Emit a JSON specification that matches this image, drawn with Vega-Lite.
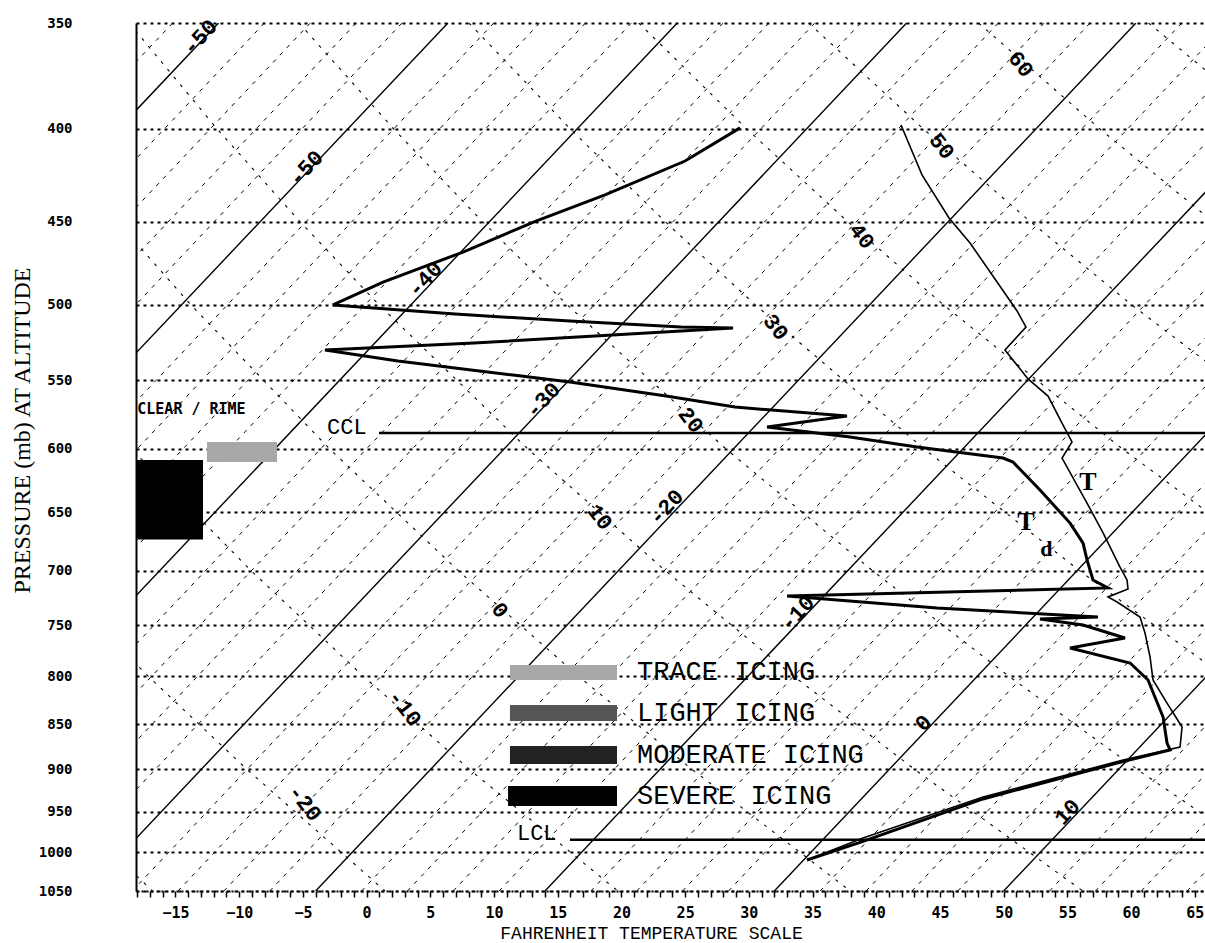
{
  "$schema": "https://vega.github.io/schema/vega-lite/v6.json",
  "width": 1069,
  "height": 868,
  "autosize": "none",
  "padding": {"left": 136, "top": 23, "right": 0, "bottom": 52},
  "background": "white",
  "config": {"view": {"stroke": null}},
  "datasets": {
    "iso": [
      {"c": -62, "T": -79.6, "T2": -15.22, "p": 1050, "p2": 350},
      {"c": -60, "T": -76.0, "T2": -11.62, "p": 1050, "p2": 350},
      {"c": -58, "T": -72.4, "T2": -8.02, "p": 1050, "p2": 350},
      {"c": -56, "T": -68.8, "T2": -4.42, "p": 1050, "p2": 350},
      {"c": -54, "T": -65.2, "T2": -0.82, "p": 1050, "p2": 350},
      {"c": -52, "T": -61.6, "T2": 2.78, "p": 1050, "p2": 350},
      {"c": -50, "T": -58.0, "T2": 6.38, "p": 1050, "p2": 350},
      {"c": -48, "T": -54.4, "T2": 9.98, "p": 1050, "p2": 350},
      {"c": -46, "T": -50.8, "T2": 13.58, "p": 1050, "p2": 350},
      {"c": -44, "T": -47.2, "T2": 17.18, "p": 1050, "p2": 350},
      {"c": -42, "T": -43.6, "T2": 20.78, "p": 1050, "p2": 350},
      {"c": -40, "T": -40.0, "T2": 24.38, "p": 1050, "p2": 350},
      {"c": -38, "T": -36.4, "T2": 27.98, "p": 1050, "p2": 350},
      {"c": -36, "T": -32.8, "T2": 31.58, "p": 1050, "p2": 350},
      {"c": -34, "T": -29.2, "T2": 35.18, "p": 1050, "p2": 350},
      {"c": -32, "T": -25.6, "T2": 38.78, "p": 1050, "p2": 350},
      {"c": -30, "T": -22.0, "T2": 42.38, "p": 1050, "p2": 350},
      {"c": -28, "T": -18.4, "T2": 45.98, "p": 1050, "p2": 350},
      {"c": -26, "T": -14.8, "T2": 49.58, "p": 1050, "p2": 350},
      {"c": -24, "T": -11.2, "T2": 53.18, "p": 1050, "p2": 350},
      {"c": -22, "T": -7.6, "T2": 56.78, "p": 1050, "p2": 350},
      {"c": -20, "T": -4.0, "T2": 60.38, "p": 1050, "p2": 350},
      {"c": -18, "T": -0.4, "T2": 63.98, "p": 1050, "p2": 350},
      {"c": -16, "T": 3.2, "T2": 67.58, "p": 1050, "p2": 350},
      {"c": -14, "T": 6.8, "T2": 71.18, "p": 1050, "p2": 350},
      {"c": -12, "T": 10.4, "T2": 74.78, "p": 1050, "p2": 350},
      {"c": -10, "T": 14.0, "T2": 78.38, "p": 1050, "p2": 350},
      {"c": -8, "T": 17.6, "T2": 81.98, "p": 1050, "p2": 350},
      {"c": -6, "T": 21.2, "T2": 85.58, "p": 1050, "p2": 350},
      {"c": -4, "T": 24.8, "T2": 89.18, "p": 1050, "p2": 350},
      {"c": -2, "T": 28.4, "T2": 92.78, "p": 1050, "p2": 350},
      {"c": 0, "T": 32.0, "T2": 96.38, "p": 1050, "p2": 350},
      {"c": 2, "T": 35.6, "T2": 99.98, "p": 1050, "p2": 350},
      {"c": 4, "T": 39.2, "T2": 103.58, "p": 1050, "p2": 350},
      {"c": 6, "T": 42.8, "T2": 107.18, "p": 1050, "p2": 350},
      {"c": 8, "T": 46.4, "T2": 110.78, "p": 1050, "p2": 350},
      {"c": 10, "T": 50.0, "T2": 114.38, "p": 1050, "p2": 350},
      {"c": 12, "T": 53.6, "T2": 117.98, "p": 1050, "p2": 350},
      {"c": 14, "T": 57.2, "T2": 121.58, "p": 1050, "p2": 350},
      {"c": 16, "T": 60.8, "T2": 125.18, "p": 1050, "p2": 350},
      {"c": 18, "T": 64.4, "T2": 128.78, "p": 1050, "p2": 350}
    ],
    "adiabat": [
      {"th": -30, "i": 0, "p": 350, "T": -71.98}, {"th": -30, "i": 1, "p": 400, "T": -67.18}, {"th": -30, "i": 2, "p": 450, "T": -62.56}, {"th": -30, "i": 3, "p": 500, "T": -58.09}, {"th": -30, "i": 4, "p": 600, "T": -49.58}, {"th": -30, "i": 5, "p": 700, "T": -41.58}, {"th": -30, "i": 6, "p": 800, "T": -34.04}, {"th": -30, "i": 7, "p": 900, "T": -26.88}, {"th": -30, "i": 8, "p": 1050, "T": -16.8},
      {"th": -20, "i": 0, "p": 350, "T": -58.65}, {"th": -20, "i": 1, "p": 400, "T": -53.33}, {"th": -20, "i": 2, "p": 450, "T": -48.23}, {"th": -20, "i": 3, "p": 500, "T": -43.32}, {"th": -20, "i": 4, "p": 600, "T": -34.02}, {"th": -20, "i": 5, "p": 700, "T": -25.32}, {"th": -20, "i": 6, "p": 800, "T": -17.15}, {"th": -20, "i": 7, "p": 900, "T": -9.41}, {"th": -20, "i": 8, "p": 1050, "T": 1.45},
      {"th": -10, "i": 0, "p": 350, "T": -45.31}, {"th": -10, "i": 1, "p": 400, "T": -39.47}, {"th": -10, "i": 2, "p": 450, "T": -33.9}, {"th": -10, "i": 3, "p": 500, "T": -28.56}, {"th": -10, "i": 4, "p": 600, "T": -18.47}, {"th": -10, "i": 5, "p": 700, "T": -9.07}, {"th": -10, "i": 6, "p": 800, "T": -0.27}, {"th": -10, "i": 7, "p": 900, "T": 8.05}, {"th": -10, "i": 8, "p": 1050, "T": 19.71},
      {"th": 0, "i": 0, "p": 350, "T": -31.98}, {"th": 0, "i": 1, "p": 400, "T": -25.62}, {"th": 0, "i": 2, "p": 450, "T": -19.57}, {"th": 0, "i": 3, "p": 500, "T": -13.79}, {"th": 0, "i": 4, "p": 600, "T": -2.91}, {"th": 0, "i": 5, "p": 700, "T": 7.19}, {"th": 0, "i": 6, "p": 800, "T": 16.62}, {"th": 0, "i": 7, "p": 900, "T": 25.52}, {"th": 0, "i": 8, "p": 1050, "T": 37.96},
      {"th": 10, "i": 0, "p": 350, "T": -18.64}, {"th": 10, "i": 1, "p": 400, "T": -11.76}, {"th": 10, "i": 2, "p": 450, "T": -5.24}, {"th": 10, "i": 3, "p": 500, "T": 0.97}, {"th": 10, "i": 4, "p": 600, "T": 12.64}, {"th": 10, "i": 5, "p": 700, "T": 23.44}, {"th": 10, "i": 6, "p": 800, "T": 33.51}, {"th": 10, "i": 7, "p": 900, "T": 42.99}, {"th": 10, "i": 8, "p": 1050, "T": 56.21},
      {"th": 20, "i": 0, "p": 350, "T": -5.31}, {"th": 20, "i": 1, "p": 400, "T": 2.09}, {"th": 20, "i": 2, "p": 450, "T": 9.09}, {"th": 20, "i": 3, "p": 500, "T": 15.74}, {"th": 20, "i": 4, "p": 600, "T": 28.2}, {"th": 20, "i": 5, "p": 700, "T": 39.7}, {"th": 20, "i": 6, "p": 800, "T": 50.39}, {"th": 20, "i": 7, "p": 900, "T": 60.45}, {"th": 20, "i": 8, "p": 1050, "T": 74.47},
      {"th": 30, "i": 0, "p": 350, "T": 8.03}, {"th": 30, "i": 1, "p": 400, "T": 15.95}, {"th": 30, "i": 2, "p": 450, "T": 23.42}, {"th": 30, "i": 3, "p": 500, "T": 30.5}, {"th": 30, "i": 4, "p": 600, "T": 43.76}, {"th": 30, "i": 5, "p": 700, "T": 55.95}, {"th": 30, "i": 6, "p": 800, "T": 67.28}, {"th": 30, "i": 7, "p": 900, "T": 77.92}, {"th": 30, "i": 8, "p": 1050, "T": 92.72},
      {"th": 40, "i": 0, "p": 350, "T": 21.36}, {"th": 40, "i": 1, "p": 400, "T": 29.8}, {"th": 40, "i": 2, "p": 450, "T": 37.75}, {"th": 40, "i": 3, "p": 500, "T": 45.27}, {"th": 40, "i": 4, "p": 600, "T": 59.31}, {"th": 40, "i": 5, "p": 700, "T": 72.21}, {"th": 40, "i": 6, "p": 800, "T": 84.17}, {"th": 40, "i": 7, "p": 900, "T": 95.39}, {"th": 40, "i": 8, "p": 1050, "T": 110.97},
      {"th": 50, "i": 0, "p": 350, "T": 34.7}, {"th": 50, "i": 1, "p": 400, "T": 43.66}, {"th": 50, "i": 2, "p": 450, "T": 52.08}, {"th": 50, "i": 3, "p": 500, "T": 60.04}, {"th": 50, "i": 4, "p": 600, "T": 74.87}, {"th": 50, "i": 5, "p": 700, "T": 88.47}, {"th": 50, "i": 6, "p": 800, "T": 101.06}, {"th": 50, "i": 7, "p": 900, "T": 112.85}, {"th": 50, "i": 8, "p": 1050, "T": 129.23},
      {"th": 60, "i": 0, "p": 350, "T": 48.03}, {"th": 60, "i": 1, "p": 400, "T": 57.51}, {"th": 60, "i": 2, "p": 450, "T": 66.41}, {"th": 60, "i": 3, "p": 500, "T": 74.8}, {"th": 60, "i": 4, "p": 600, "T": 90.43}, {"th": 60, "i": 5, "p": 700, "T": 104.72}, {"th": 60, "i": 6, "p": 800, "T": 117.95}, {"th": 60, "i": 7, "p": 900, "T": 130.32}, {"th": 60, "i": 8, "p": 1050, "T": 147.48},
      {"th": 70, "i": 0, "p": 350, "T": 61.37}, {"th": 70, "i": 1, "p": 400, "T": 71.37}, {"th": 70, "i": 2, "p": 450, "T": 80.74}, {"th": 70, "i": 3, "p": 500, "T": 89.57}, {"th": 70, "i": 4, "p": 600, "T": 105.98}, {"th": 70, "i": 5, "p": 700, "T": 120.98}, {"th": 70, "i": 6, "p": 800, "T": 134.84}, {"th": 70, "i": 7, "p": 900, "T": 147.79}, {"th": 70, "i": 8, "p": 1050, "T": 165.73}
    ],
    "isoLabels": [
      {"T": -13.08, "p": 356.3, "label": "-50"},
      {"T": -4.76, "p": 420.5, "label": "-50"},
      {"T": 4.58, "p": 484, "label": "-40"},
      {"T": 13.84, "p": 564, "label": "-30"},
      {"T": 23.5, "p": 645.8, "label": "-20"},
      {"T": 33.78, "p": 738.6, "label": "-10"},
      {"T": 43.67, "p": 848.9, "label": "0"},
      {"T": 54.97, "p": 950, "label": "10"}
    ],
    "thLabels": [
      {"T": 51.36, "p": 368.7, "label": "60"},
      {"T": 45.16, "p": 409, "label": "50"},
      {"T": 38.88, "p": 458.3, "label": "40"},
      {"T": 32.13, "p": 514.3, "label": "30"},
      {"T": 25.46, "p": 578.5, "label": "20"},
      {"T": 18.32, "p": 654.1, "label": "10"},
      {"T": 10.47, "p": 735.8, "label": "0"},
      {"T": 3.01, "p": 832.9, "label": "-10"},
      {"T": -4.84, "p": 939.3, "label": "-20"}
    ],
    "icing": [
      {"kind": "severe", "T": -18.1, "T2": -12.84, "p": 608.5, "p2": 673},
      {"kind": "trace", "T": -12.53, "T2": -7.03, "p": 594.8, "p2": 610},
      {"kind": "trace", "T": 11.25, "T2": 19.65, "p": 788.8, "p2": 804},
      {"kind": "light", "T": 11.25, "T2": 19.65, "p": 829.7, "p2": 846.8},
      {"kind": "moderate", "T": 11.25, "T2": 19.65, "p": 874, "p2": 894},
      {"kind": "severe", "T": 11.1, "T2": 19.65, "p": 919.3, "p2": 942.9}
    ],
    "legendText": [
      {"T": 21.22, "p": 795.8, "label": "TRACE ICING"},
      {"T": 21.22, "p": 838.2, "label": "LIGHT ICING"},
      {"T": 21.22, "p": 884, "label": "MODERATE ICING"},
      {"T": 21.22, "p": 931, "label": "SEVERE ICING"}
    ],
    "levels": [
      {"name": "CCL", "T": 0.97, "T2": 65.8, "p": 588},
      {"name": "LCL", "T": 15.96, "T2": 65.8, "p": 984}
    ],
    "levelText": [
      {"T": -3.11, "p": 583.6, "label": "CCL"},
      {"T": 11.8, "p": 975.7, "label": "LCL"}
    ],
    "sounding": [
      {"s": "T", "i": 1, "T": 41.94, "p": 398.2}, {"s": "T", "i": 2, "T": 43.59, "p": 424.2}, {"s": "T", "i": 3, "T": 45.71, "p": 448.0}, {"s": "T", "i": 4, "T": 47.36, "p": 462.4}, {"s": "T", "i": 5, "T": 49.48, "p": 485.8}, {"s": "T", "i": 6, "T": 51.05, "p": 503.9}, {"s": "T", "i": 7, "T": 51.75, "p": 514.3}, {"s": "T", "i": 8, "T": 50.1, "p": 529.4}, {"s": "T", "i": 9, "T": 51.91, "p": 549.2}, {"s": "T", "i": 10, "T": 53.48, "p": 561.2}, {"s": "T", "i": 11, "T": 54.66, "p": 582.2}, {"s": "T", "i": 12, "T": 55.36, "p": 594.8}, {"s": "T", "i": 13, "T": 54.58, "p": 607.0}, {"s": "T", "i": 14, "T": 56.54, "p": 642.6}, {"s": "T", "i": 15, "T": 57.8, "p": 667.4}, {"s": "T", "i": 16, "T": 59.13, "p": 696.8}, {"s": "T", "i": 17, "T": 59.68, "p": 708.3}, {"s": "T", "i": 18, "T": 59.76, "p": 716.5}, {"s": "T", "i": 19, "T": 58.19, "p": 723.7}, {"s": "T", "i": 20, "T": 58.9, "p": 728.3}, {"s": "T", "i": 21, "T": 60.7, "p": 742.3}, {"s": "T", "i": 22, "T": 61.09, "p": 757.5}, {"s": "T", "i": 23, "T": 61.49, "p": 780.9}, {"s": "T", "i": 24, "T": 61.72, "p": 803.9}, {"s": "T", "i": 25, "T": 62.82, "p": 827.7}, {"s": "T", "i": 26, "T": 64.0, "p": 853.2}, {"s": "T", "i": 27, "T": 63.84, "p": 875.1}, {"s": "T", "i": 28, "T": 59.37, "p": 889.6}, {"s": "T", "i": 29, "T": 48.38, "p": 932.2}, {"s": "T", "i": 30, "T": 38.96, "p": 981.9}, {"s": "T", "i": 31, "T": 34.56, "p": 1009.6},
      {"s": "Td", "i": 1, "T": 29.31, "p": 399.7}, {"s": "Td", "i": 2, "T": 24.99, "p": 416.8}, {"s": "Td", "i": 3, "T": 18.71, "p": 435.1}, {"s": "Td", "i": 4, "T": 13.29, "p": 449.7}, {"s": "Td", "i": 5, "T": 7.57, "p": 467.7}, {"s": "Td", "i": 6, "T": 1.29, "p": 485.8}, {"s": "Td", "i": 7, "T": -2.64, "p": 500.1}, {"s": "Td", "i": 8, "T": 6.94, "p": 505.9}, {"s": "Td", "i": 9, "T": 15.96, "p": 510.4}, {"s": "Td", "i": 10, "T": 24.68, "p": 514.3}, {"s": "Td", "i": 11, "T": 28.76, "p": 514.9}, {"s": "Td", "i": 12, "T": 17.93, "p": 520.1}, {"s": "Td", "i": 13, "T": 8.43, "p": 524.8}, {"s": "Td", "i": 14, "T": -3.27, "p": 529.4}, {"s": "Td", "i": 15, "T": 2.46, "p": 536.9}, {"s": "Td", "i": 16, "T": 11.49, "p": 546.5}, {"s": "Td", "i": 17, "T": 15.96, "p": 551.3}, {"s": "Td", "i": 18, "T": 23.5, "p": 561.2}, {"s": "Td", "i": 19, "T": 28.91, "p": 569.1}, {"s": "Td", "i": 20, "T": 37.7, "p": 575.6}, {"s": "Td", "i": 21, "T": 31.43, "p": 583.7}, {"s": "Td", "i": 22, "T": 37.94, "p": 591.1}, {"s": "Td", "i": 23, "T": 43.2, "p": 598.6}, {"s": "Td", "i": 24, "T": 49.95, "p": 607.0}, {"s": "Td", "i": 25, "T": 50.73, "p": 610.1}, {"s": "Td", "i": 26, "T": 52.85, "p": 632.1}, {"s": "Td", "i": 27, "T": 55.21, "p": 659.1}, {"s": "Td", "i": 28, "T": 56.23, "p": 676.0}, {"s": "Td", "i": 29, "T": 56.54, "p": 690.6}, {"s": "Td", "i": 30, "T": 57.01, "p": 708.3}, {"s": "Td", "i": 31, "T": 58.19, "p": 715.5}, {"s": "Td", "i": 32, "T": 33.0, "p": 722.8}, {"s": "Td", "i": 33, "T": 44.77, "p": 733.9}, {"s": "Td", "i": 34, "T": 57.4, "p": 742.3}, {"s": "Td", "i": 35, "T": 52.85, "p": 744.2}, {"s": "Td", "i": 36, "T": 56.23, "p": 749.9}, {"s": "Td", "i": 37, "T": 59.52, "p": 762.3}, {"s": "Td", "i": 38, "T": 55.21, "p": 772.0}, {"s": "Td", "i": 39, "T": 59.92, "p": 786.8}, {"s": "Td", "i": 40, "T": 61.33, "p": 803.9}, {"s": "Td", "i": 41, "T": 62.51, "p": 842.5}, {"s": "Td", "i": 42, "T": 62.82, "p": 870.7}, {"s": "Td", "i": 43, "T": 63.06, "p": 878.4}, {"s": "Td", "i": 44, "T": 58.9, "p": 893.0}, {"s": "Td", "i": 45, "T": 48.38, "p": 934.5}, {"s": "Td", "i": 46, "T": 38.96, "p": 986.0}, {"s": "Td", "i": 47, "T": 34.56, "p": 1009.6}
    ]
  },
  "encoding": {
    "x": {
      "field": "T", "type": "quantitative",
      "scale": {"domain": [-18.1, 65.8], "nice": false, "zero": false},
      "axis": {
        "values": [-18,-17,-16,-15,-14,-13,-12,-11,-10,-9,-8,-7,-6,-5,-4,-3,-2,-1,0,1,2,3,4,5,6,7,8,9,10,11,12,13,14,15,16,17,18,19,20,21,22,23,24,25,26,27,28,29,30,31,32,33,34,35,36,37,38,39,40,41,42,43,44,45,46,47,48,49,50,51,52,53,54,55,56,57,58,59,60,61,62,63,64,65],
        "labelExpr": "datum.value % 5 === 0 ? format(datum.value, 'd') : ''",
        "labelFont": "DejaVu Sans Mono", "labelFontWeight": "bold", "labelFontSize": 15, "labelColor": "black",
        "labelPadding": 8, "labelFlush": false, "labelOverlap": false,
        "tickSize": 6, "tickColor": "black", "tickWidth": 1.5,
        "domainColor": "black", "domainWidth": 2, "domainDash": [2, 3],
        "grid": false,
        "title": "FAHRENHEIT TEMPERATURE SCALE",
        "titleFont": "Liberation Mono", "titleFontSize": 18, "titleFontWeight": "normal", "titleColor": "black",
        "titleX": 515, "titleY": 42, "titleAlign": "center", "titleBaseline": "middle"
      }
    },
    "y": {
      "field": "p", "type": "quantitative",
      "scale": {"type": "log", "domain": [350, 1050], "reverse": true, "nice": false},
      "axis": {
        "values": [350, 400, 450, 500, 550, 600, 650, 700, 750, 800, 850, 900, 950, 1000, 1050],
        "format": "d",
        "labelFont": "DejaVu Sans Mono", "labelFontWeight": "bold", "labelFontSize": 14, "labelColor": "black",
        "labelPadding": 64, "labelFlush": false, "labelOverlap": false,
        "ticks": false,
        "domainColor": "black", "domainWidth": 2,
        "grid": true, "gridColor": "black", "gridDash": [3, 4], "gridWidth": 2, "gridOpacity": 1,
        "title": "PRESSURE (mb) AT ALTITUDE",
        "titleFont": "Liberation Serif", "titleFontSize": 24, "titleFontWeight": "normal", "titleColor": "black",
        "titleAngle": -90, "titleX": -114, "titleY": 407, "titleAlign": "center", "titleBaseline": "middle"
      }
    }
  },
  "layer": [
    {
      "data": {"name": "iso"},
      "transform": [{"filter": "datum.c % 10 !== 0"}],
      "mark": {"type": "rule", "clip": true, "color": "black", "strokeWidth": 1, "strokeDash": [4, 6]},
      "encoding": {"x2": {"field": "T2"}, "y2": {"field": "p2"}}
    },
    {
      "data": {"name": "adiabat"},
      "mark": {"type": "line", "clip": true, "color": "black", "strokeWidth": 1.1, "strokeDash": [3, 7]},
      "encoding": {"detail": {"field": "th"}, "order": {"field": "i", "type": "quantitative"}}
    },
    {
      "data": {"name": "iso"},
      "transform": [{"filter": "datum.c % 10 === 0"}],
      "mark": {"type": "rule", "clip": true, "color": "black", "strokeWidth": 1.4},
      "encoding": {"x2": {"field": "T2"}, "y2": {"field": "p2"}}
    },
    {
      "data": {"name": "isoLabels"},
      "mark": {"type": "text", "font": "Liberation Mono", "fontSize": 22, "fontWeight": "bold", "angle": -47, "color": "black", "align": "center", "baseline": "middle"},
      "encoding": {"text": {"field": "label"}}
    },
    {
      "data": {"name": "thLabels"},
      "mark": {"type": "text", "font": "Liberation Mono", "fontSize": 22, "fontWeight": "bold", "angle": 52, "color": "black", "align": "center", "baseline": "middle"},
      "encoding": {"text": {"field": "label"}}
    },
    {
      "data": {"name": "icing"},
      "mark": {"type": "rect"},
      "encoding": {
        "x2": {"field": "T2"}, "y2": {"field": "p2"},
        "color": {"field": "kind", "type": "nominal", "scale": {"domain": ["trace", "light", "moderate", "severe"], "range": ["#a8a8a8", "#555555", "#222222", "#000000"]}, "legend": null}
      }
    },
    {
      "data": {"name": "levels"},
      "mark": {"type": "rule", "clip": true, "color": "black", "strokeWidth": 2.5},
      "encoding": {"x2": {"field": "T2"}}
    },
    {
      "data": {"name": "levelText"},
      "mark": {"type": "text", "font": "Liberation Mono", "fontSize": 22, "color": "black", "align": "left", "baseline": "middle"},
      "encoding": {"text": {"field": "label"}}
    },
    {
      "data": {"name": "legendText"},
      "mark": {"type": "text", "font": "Liberation Mono", "fontSize": 27, "color": "black", "align": "left", "baseline": "middle"},
      "encoding": {"text": {"field": "label"}}
    },
    {
      "data": {"values": [{"T": -18.0, "p": 570.5, "label": "CLEAR / RIME"}]},
      "mark": {"type": "text", "font": "DejaVu Sans Mono", "fontWeight": "bold", "fontSize": 15, "color": "black", "align": "left", "baseline": "middle"},
      "encoding": {"text": {"field": "label"}}
    },
    {
      "data": {"values": [{"T": 56.62, "p": 625.7, "label": "T"}, {"T": 51.75, "p": 658.5, "label": "T"}]},
      "mark": {"type": "text", "font": "Liberation Serif", "fontWeight": "bold", "fontSize": 26, "color": "black", "align": "center", "baseline": "middle"},
      "encoding": {"text": {"field": "label"}}
    },
    {
      "data": {"values": [{"T": 53.35, "p": 681.0, "label": "d"}]},
      "mark": {"type": "text", "font": "Liberation Serif", "fontWeight": "bold", "fontSize": 22, "color": "black", "align": "center", "baseline": "middle"},
      "encoding": {"text": {"field": "label"}}
    },
    {
      "data": {"name": "sounding"},
      "transform": [{"filter": "datum.s === 'T'"}],
      "mark": {"type": "line", "clip": true, "color": "black", "strokeWidth": 1.6},
      "encoding": {"order": {"field": "i", "type": "quantitative"}}
    },
    {
      "data": {"name": "sounding"},
      "transform": [{"filter": "datum.s === 'Td'"}],
      "mark": {"type": "line", "clip": true, "color": "black", "strokeWidth": 3},
      "encoding": {"order": {"field": "i", "type": "quantitative"}}
    }
  ]
}
